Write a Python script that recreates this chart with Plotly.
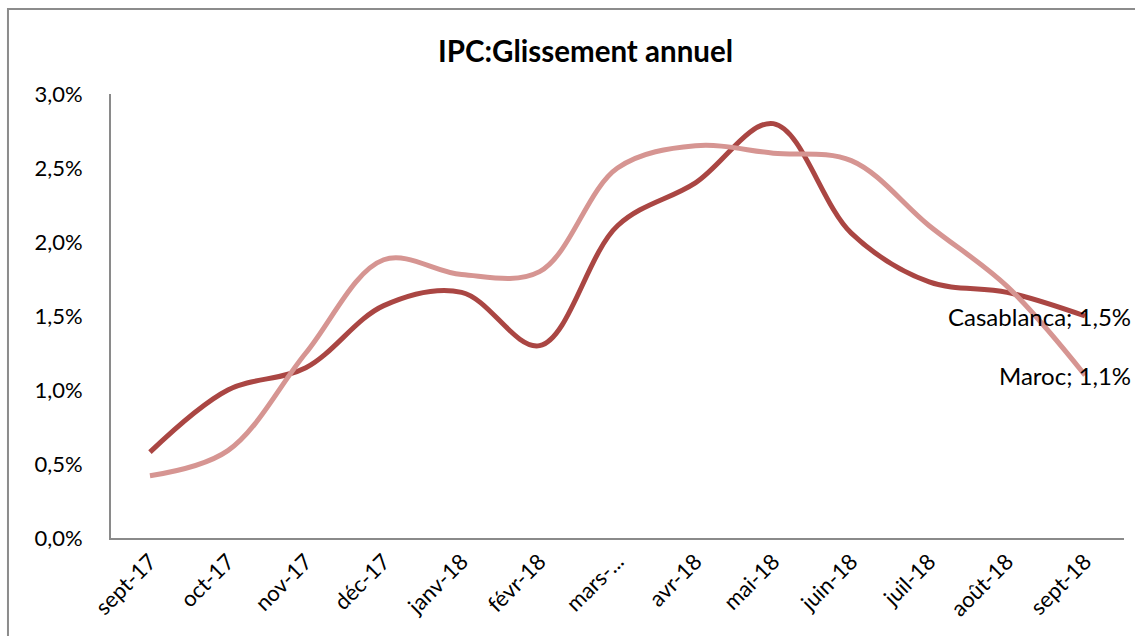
import plotly.graph_objects as go

categories = ["sept-17", "oct-17", "nov-17", "déc-17", "janv-18", "févr-18", "mars-18",
              "avr-18", "mai-18", "juin-18", "juil-18", "août-18", "sept-18"]
tick_labels = ["sept-17", "oct-17", "nov-17", "déc-17", "janv-18", "févr-18", "mars-...",
               "avr-18", "mai-18", "juin-18", "juil-18", "août-18", "sept-18"]
casablanca = [0.0058, 0.0100, 0.0115, 0.0157, 0.0166, 0.0130, 0.0211,
              0.0240, 0.0280, 0.0206, 0.0173, 0.0166, 0.0150]
maroc = [0.0042, 0.0059, 0.0125, 0.0188, 0.0178, 0.0180, 0.0250,
         0.0265, 0.0260, 0.0255, 0.0211, 0.0170, 0.0110]

C_CASA = "#AA4643"
C_MAROC = "#D69592"
FONT = "Lato"
AXIS_GRAY = "#8A8A8A"

fig = go.Figure()
fig.add_trace(go.Scatter(x=categories, y=casablanca, name="Casablanca", mode="lines",
                         line=dict(color=C_CASA, width=5, shape="spline", smoothing=1.0)))
fig.add_trace(go.Scatter(x=categories, y=maroc, name="Maroc", mode="lines",
                         line=dict(color=C_MAROC, width=5, shape="spline", smoothing=1.0)))

def fmt(v):
    return f"{v*100:.1f}".replace(".", ",") + "%"

for name, vals in (("Casablanca", casablanca), ("Maroc", maroc)):
    fig.add_annotation(x=categories[-1], y=vals[-1], xref="x", yref="y",
                       text=f"{name}; {fmt(vals[-1])}", showarrow=False,
                       xanchor="right", yanchor="middle", xshift=48,
                       font=dict(family=FONT, size=24, color="#000000"))

fig.add_annotation(x=0.468, y=1.0, xref="paper", yref="paper", yshift=44,
                   text="<b>IPC:Glissement annuel</b>", showarrow=False,
                   xanchor="center", yanchor="middle",
                   font=dict(family=FONT, size=29.5, color="#000000"))

# outer chart frame (right and bottom edges lie outside the picture)
fig.add_shape(type="rect", xref="paper", yref="paper",
              x0=-0.1017, x1=1.1, y0=-0.3, y1=1.1914,
              line=dict(color="#8C8C8C", width=2), layer="below")

fig.update_layout(
    width=1135, height=636,
    margin=dict(l=111, r=11, t=94, b=98),
    paper_bgcolor="white", plot_bgcolor="white",
    showlegend=False,
    separators=", ",
    font=dict(family=FONT, size=22, color="#000000"),
    xaxis=dict(type="category", range=[-0.5, 12.5], tickmode="array",
               tickvals=categories, ticktext=tick_labels, tickangle=-45,
               showgrid=False, zeroline=False, showline=True,
               linecolor=AXIS_GRAY, linewidth=2, ticks="",
               tickfont=dict(family=FONT, size=22, color="#000000")),
    yaxis=dict(range=[0, 0.03], dtick=0.005, tickformat=".1%",
               showgrid=False, zeroline=False, showline=True,
               linecolor=AXIS_GRAY, linewidth=2, ticks="",
               ticklabelstandoff=22,
               tickfont=dict(family=FONT, size=22, color="#000000")),
)

fig.write_html("out.html", config={"displayModeBar": False},
               post_script="document.body.style.margin='0';document.body.style.overflow='hidden';")
